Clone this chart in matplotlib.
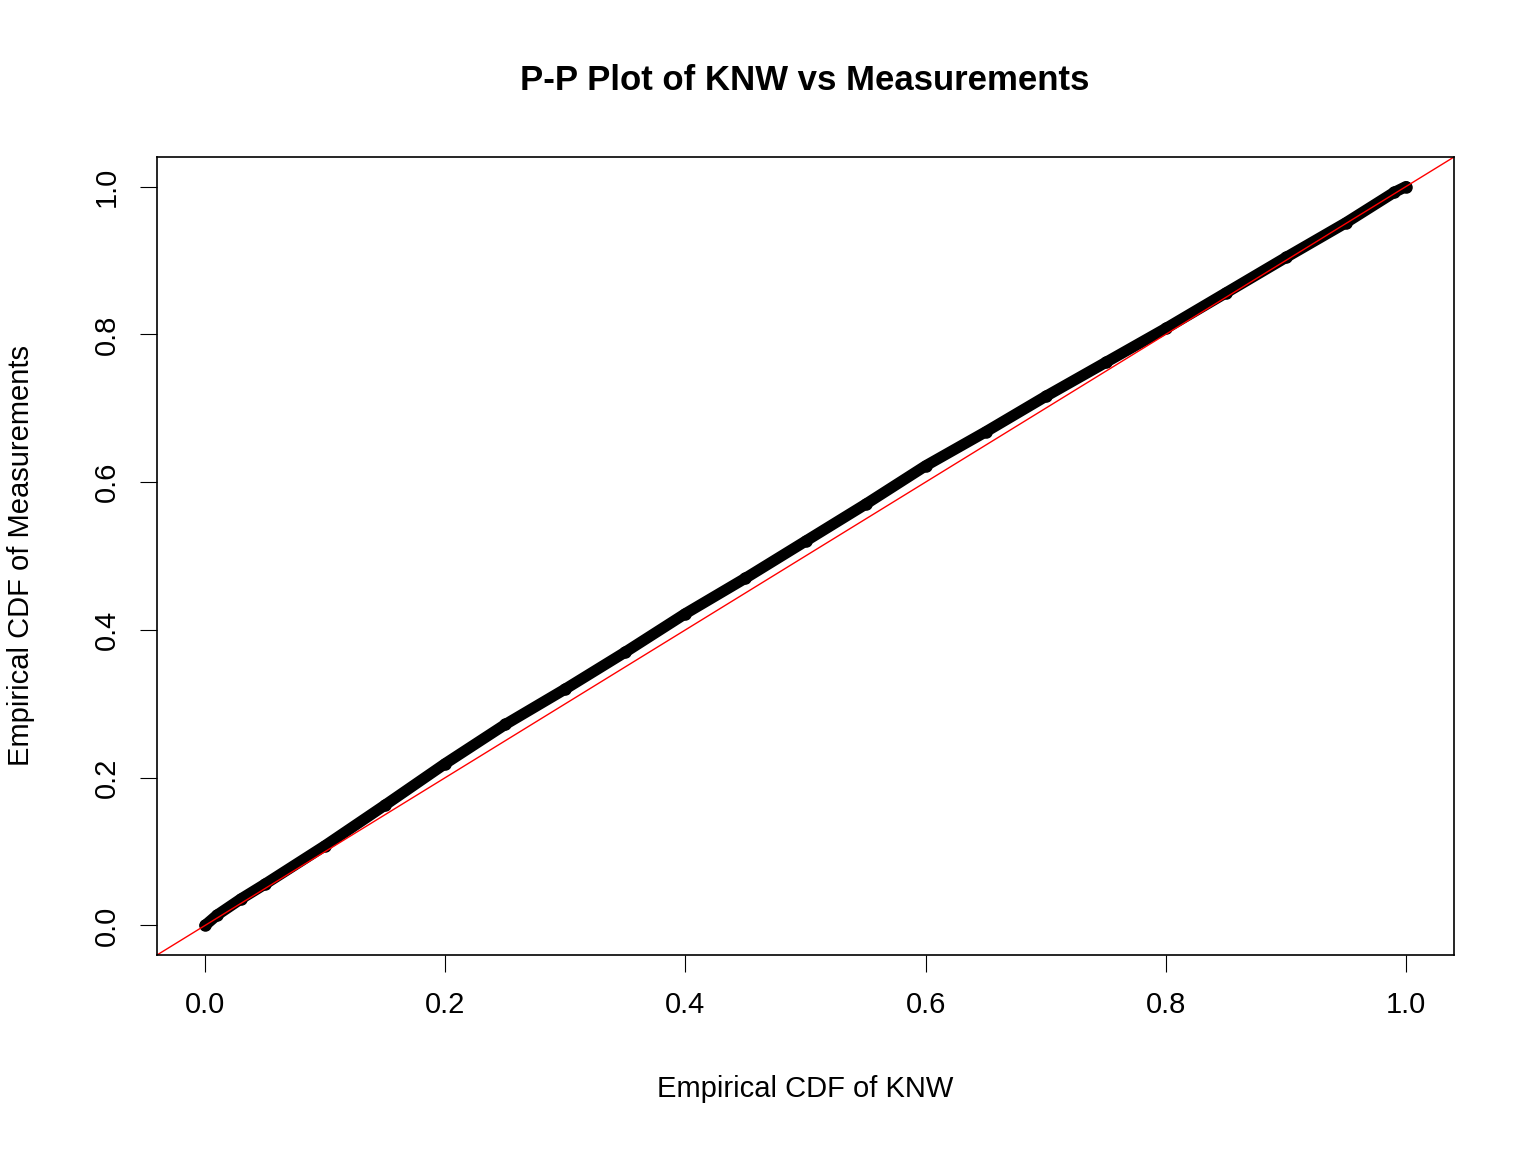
import numpy as np
import matplotlib
matplotlib.use("Agg")
import matplotlib.pyplot as plt

plt.rcParams['font.family'] = ['Liberation Sans', 'DejaVu Sans']

# values
cdf_knw = [0.0, 0.01, 0.03, 0.05, 0.1, 0.15, 0.2, 0.25, 0.3, 0.35, 0.4, 0.45,
           0.5, 0.55, 0.6, 0.65, 0.7, 0.75, 0.8, 0.85, 0.9, 0.95, 0.99, 1.0]
cdf_meas = [0.0, 0.014, 0.036, 0.056, 0.108, 0.163, 0.219, 0.272, 0.32, 0.37,
            0.422, 0.47, 0.52, 0.57, 0.622, 0.668, 0.716, 0.762, 0.808, 0.856,
            0.904, 0.951, 0.992, 1.0]

fig = plt.figure(figsize=(15.36, 11.52), dpi=100)
ax = fig.add_axes([157/1536, 1-955/1152, (1454-157)/1536, (955-157)/1152])

ax.plot(cdf_knw, cdf_meas, color='black', lw=8, solid_capstyle='round')
ax.plot(cdf_knw, cdf_meas, 'o', color='black', ms=8)
ax.axline((0, 0), slope=1, color='red', lw=1)

ax.set_xlim(-0.04, 1.04)
ax.set_ylim(-0.04, 1.04)
ticks = [0.0, 0.2, 0.4, 0.6, 0.8, 1.0]
ax.set_xticks(ticks, [f"{t:.1f}" for t in ticks])
ax.set_yticks(ticks, [f"{t:.1f}" for t in ticks], rotation=90, va='center')
ax.tick_params(labelsize=21, length=12, pad=14)
for s in ax.spines.values():
    s.set_linewidth(1.2)

ax.set_xlabel("Empirical CDF of KNW", fontsize=21, labelpad=40)
ax.set_ylabel("Empirical CDF of Measurements", fontsize=21, labelpad=42)
fig.text(805/1536, 1-80/1152, "P-P Plot of KNW vs Measurements", fontsize=25,
         fontweight='bold', ha='center', va='center')

fig.savefig("out.png", dpi=100)
